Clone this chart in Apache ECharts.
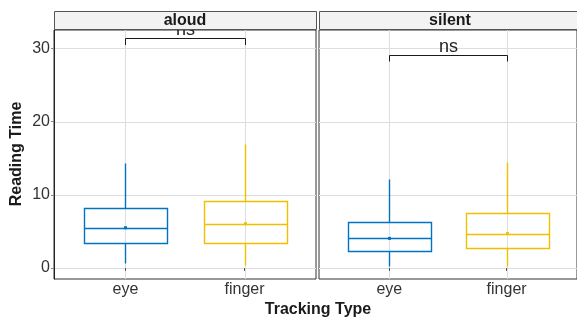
<!DOCTYPE html>
<html><head><meta charset="utf-8">
<script src="https://cdn.jsdelivr.net/npm/echarts@6/dist/echarts.min.js"></script>
<style>html,body{margin:0;padding:0;background:#fff}#c{width:577px;height:320px}</style>
</head><body><div id="c"></div>
<script>
const panels = ['aloud', 'silent'];
const categories = ['eye', 'finger'];
const yTicks = [0, 10, 20, 30];
// [lowerWhisker, q1, median, q3, upperWhisker] per category
const aloudBoxes = [[0.65, 3.4, 5.5, 8.2, 14.3], [0.45, 3.45, 6.05, 9.1, 16.9]];
const silentBoxes = [[0.3, 2.3, 4.05, 6.3, 12.2], [0.3, 2.7, 4.7, 7.45, 14.5]];
const aloudMeans = [5.5, 6.05];
const silentMeans = [4.05, 4.7];
const bracketLabels = ['ns', 'ns'];
const bracketTops = [31.35, 29.15];
const bracketBottoms = [30.45, 28.2];

const colors = ['#0073C2', '#EFC000'];
const FONT = 'Liberation Sans, Arial, sans-serif';
const boxesByPanel = [aloudBoxes, silentBoxes];
const meansByPanel = [aloudMeans, silentMeans];
const px = v => Math.round(v) + 0.5;

function renderBox(params, api) {
  const x = api.value(0);
  const cx = px(api.coord([x, 0])[0]);
  const w = api.size([0.7, 0])[0];
  const y = i => px(api.coord([x, api.value(i)])[1]);
  const yLo = y(1), yQ1 = y(2), yMed = y(3), yQ3 = y(4), yHi = y(5), yMean = api.coord([x, api.value(6)])[1];
  const color = colors[api.value(7)];
  const ls = () => ({ stroke: color, lineWidth: 1.4, fill: 'none' });
  const x0 = px(cx - w / 2), x1 = px(cx + w / 2);
  return { type: 'group', children: [
    { type: 'polyline', shape: { points: [[cx, yHi], [cx, yQ3]] }, style: ls(), z2: 10 },
    { type: 'polyline', shape: { points: [[cx, yQ1], [cx, yLo]] }, style: ls(), z2: 10 },
    { type: 'rect', shape: { x: x0, y: yQ3, width: x1 - x0, height: yQ1 - yQ3 }, style: ls(), z2: 10 },
    { type: 'polyline', shape: { points: [[x0, yMed], [x1, yMed]] }, style: ls(), z2: 10 },
    { type: 'rect', shape: { x: cx - 1.5, y: yMean - 1.5, width: 3, height: 3 }, style: { fill: color }, z2: 11 }
  ]};
}

function renderHGrid(params, api) {
  const cs = params.coordSys;
  const yy = px(api.coord([1, api.value(0)])[1]);
  return { type: 'polyline', shape: { points: [[cs.x, yy], [cs.x + cs.width, yy]] }, style: { stroke: '#dedede', lineWidth: 1, fill: 'none' } };
}
function renderVGrid(params, api) {
  const cs = params.coordSys;
  const xx = px(api.coord([api.value(0), 0])[0]);
  return { type: 'polyline', shape: { points: [[xx, cs.y], [xx, cs.y + cs.height]] }, style: { stroke: '#dedede', lineWidth: 1, fill: 'none' } };
}
function renderBracket(params, api) {
  const xa = px(api.coord([api.value(0), 0])[0]);
  const xb = px(api.coord([api.value(1), 0])[0]);
  const yt = px(api.coord([1, api.value(2)])[1]);
  const yb = api.coord([1, api.value(3)])[1];
  return { type: 'group', children: [
    { type: 'polyline', shape: { points: [[xa, yb], [xa, yt], [xb, yt], [xb, yb]] }, style: { stroke: '#1a1a1a', lineWidth: 1, fill: 'none' } },
    { type: 'text', style: { text: bracketLabels[api.value(4)], x: (xa + xb) / 2, y: yt + 1, align: 'center', verticalAlign: 'bottom', fontSize: 18, fontFamily: FONT, fill: '#222' } }
  ]};
}

const grids = [], xAxes = [], yAxes = [], series = [];
const gridLefts = [54, 319];
panels.forEach((p, i) => {
  grids.push({ left: gridLefts[i], top: 30, width: 262, height: 249, show: true, borderColor: '#333', borderWidth: 1, backgroundColor: 'transparent' });
  xAxes.push({ gridIndex: i, type: 'value', min: 0.4, max: 2.6,
    axisLine: { show: false }, splitLine: { show: false },
    axisTick: { show: true, customValues: [1, 2], length: 3, lineStyle: { color: '#555' } },
    axisLabel: { customValues: [1, 2], formatter: v => categories[Math.round(v) - 1], fontSize: 16, fontFamily: FONT, color: '#333', margin: 3 } });
  yAxes.push({ gridIndex: i, type: 'value', min: -1.5, max: 32.5,
    axisLine: { show: i === 0, lineStyle: { color: '#222' } }, splitLine: { show: false },
    axisTick: { show: i === 0, customValues: yTicks, length: 3, lineStyle: { color: '#888' } },
    axisLabel: { show: i === 0, customValues: yTicks, fontSize: 16, fontFamily: FONT, color: '#333', margin: 4 } });
  series.push({ type: 'custom', xAxisIndex: i, yAxisIndex: i, renderItem: renderHGrid, data: yTicks.map(v => [v]), z: 0, silent: true, clip: true });
  series.push({ type: 'custom', xAxisIndex: i, yAxisIndex: i, renderItem: renderVGrid, data: categories.map((c, k) => [k + 1]), z: 0, silent: true, clip: true });
  series.push({ type: 'custom', name: p, xAxisIndex: i, yAxisIndex: i, renderItem: renderBox, z: 10, clip: true,
    data: categories.map((c, k) => [k + 1, ...boxesByPanel[i][k], meansByPanel[i][k], k]) });
  series.push({ type: 'custom', xAxisIndex: i, yAxisIndex: i, renderItem: renderBracket, z: 10, clip: true,
    data: [[1, 2, bracketTops[i], bracketBottoms[i], i]] });
});

const graphics = [];
panels.forEach((p, i) => {
  graphics.push({ type: 'rect', z: 100, shape: { x: gridLefts[i] + 0.5, y: 11.5, width: 262, height: 18 }, style: { fill: '#f2f3f2', stroke: '#555', lineWidth: 1 } });
  graphics.push({ type: 'text', z: 101, x: gridLefts[i] + 131, y: 21, style: { text: p, align: 'center', verticalAlign: 'middle', fontSize: 16, fontWeight: 'bold', fontFamily: FONT, fill: '#1a1a1a' } });
});
graphics.push({ type: 'text', z: 101, x: 318, y: 310, style: { text: 'Tracking Type', align: 'center', verticalAlign: 'middle', fontSize: 16, fontWeight: 'bold', fontFamily: FONT, fill: '#1a1a1a' } });
graphics.push({ type: 'text', z: 101, x: 17, y: 154, rotation: Math.PI / 2, style: { text: 'Reading Time', align: 'center', verticalAlign: 'middle', fontSize: 16, fontWeight: 'bold', fontFamily: FONT, fill: '#1a1a1a' } });

const chart = echarts.init(document.getElementById('c'), null, { renderer: 'canvas' });
chart.setOption({
  animation: false,
  backgroundColor: '#fff',
  grid: grids, xAxis: xAxes, yAxis: yAxes, series: series,
  graphic: { zlevel: 1, z: 100, elements: graphics }
});
</script></body></html>
